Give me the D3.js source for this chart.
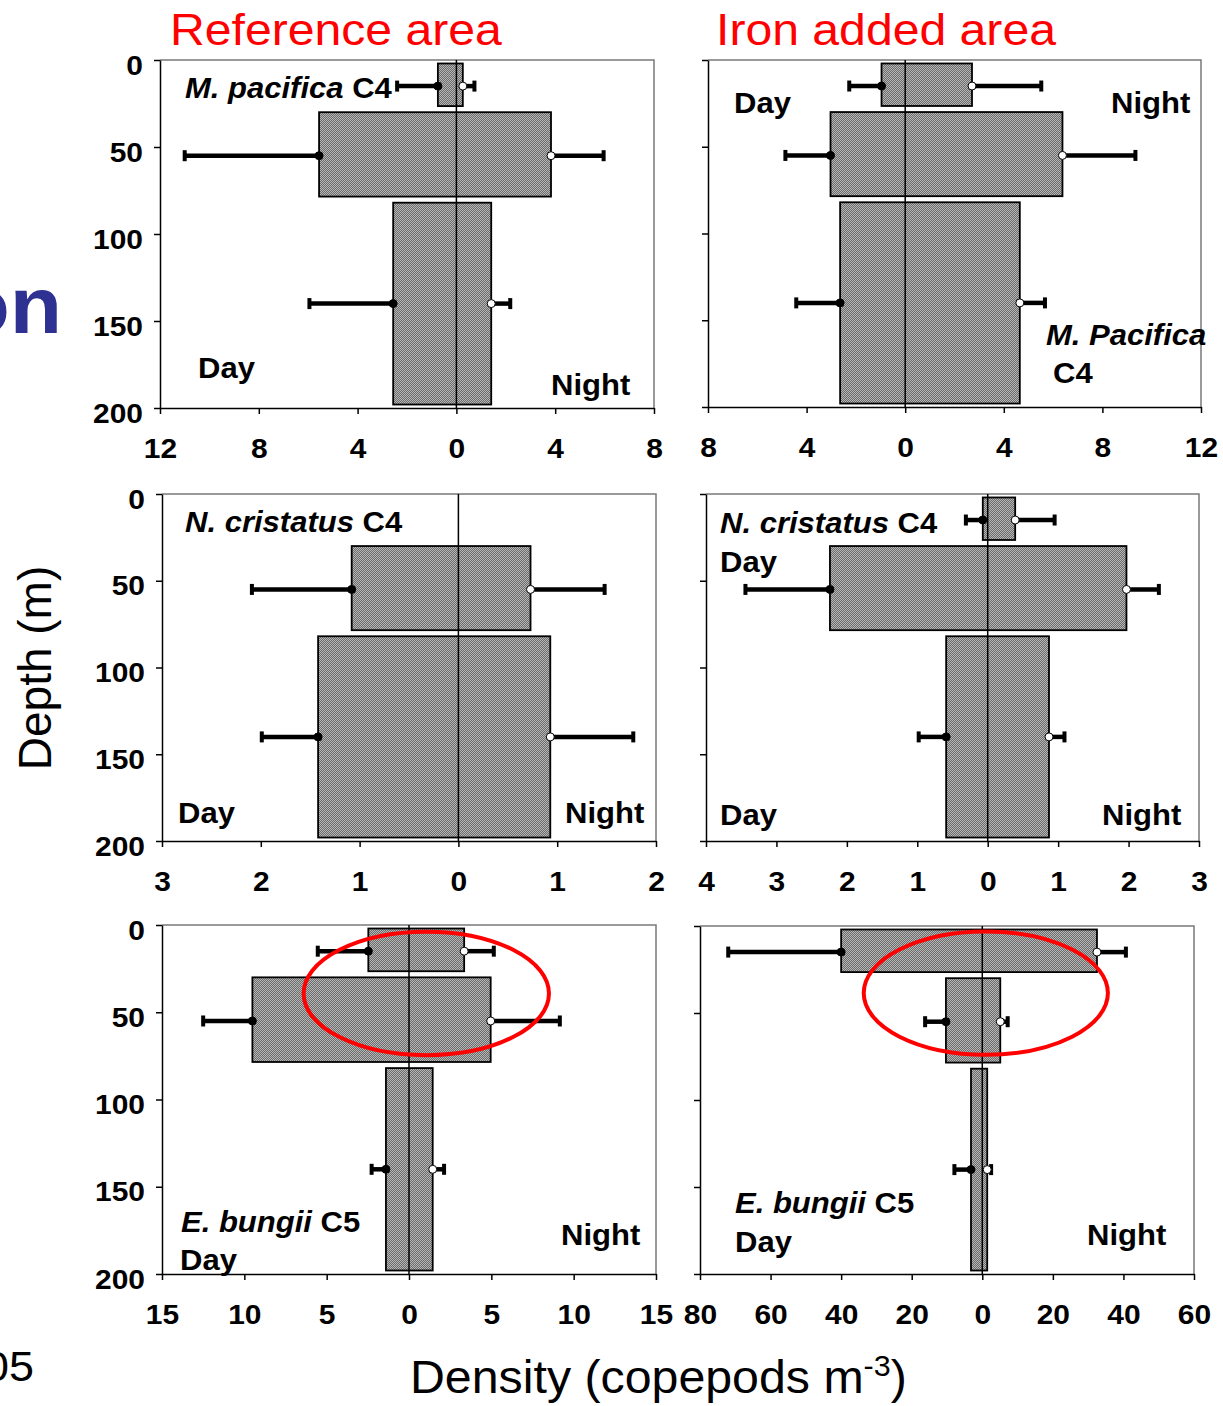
<!DOCTYPE html>
<html>
<head>
<meta charset="utf-8">
<script src="https://cdn.jsdelivr.net/npm/d3@7"></script>
<style>
  html, body { margin: 0; padding: 0; background: #fff; }
  svg { display: block; }
  text { font-family: "Liberation Sans", Arial, sans-serif; white-space: pre; }
</style>
</head>
<body>
<svg id="chart" width="1223" height="1406"></svg>
<script>
// ---- Sampling layers (m) ----
const layerTop = [2, 30, 82];
const layerBottom = [26.5, 78.5, 198];
const sampleDepth = [15, 55, 140];
const depthTicks = [0, 50, 100, 150, 200];

// ---- Metridia pacifica C4 (copepods m-3) ----
const mpRefDay = [0.75, 5.56, 2.56];
const mpRefDaySE = [1.65, 5.44, 3.39];
const mpRefNight = [0.26, 3.83, 1.41];
const mpRefNightSE = [0.47, 2.13, 0.77];
const mpFeDay = [0.96, 3.03, 2.64];
const mpFeDaySE = [1.31, 1.83, 1.78];
const mpFeNight = [2.71, 6.38, 4.65];
const mpFeNightSE = [2.81, 2.96, 1.02];

// ---- Neocalanus cristatus C4 ----
const ncRefDay = [0, 1.08, 1.42];
const ncRefDaySE = [0, 1.01, 0.57];
const ncRefNight = [0, 0.73, 0.93];
const ncRefNightSE = [0, 0.75, 0.84];
const ncFeDay = [0.07, 2.24, 0.59];
const ncFeDaySE = [0.24, 1.20, 0.39];
const ncFeNight = [0.39, 1.97, 0.87];
const ncFeNightSE = [0.56, 0.46, 0.22];

// ---- Eucalanus bungii C5 ----
const ebRefDay = [2.47, 9.51, 1.40];
const ebRefDaySE = [3.07, 2.99, 0.87];
const ebRefNight = [3.35, 4.96, 1.44];
const ebRefNightSE = [1.80, 4.20, 0.69];
const ebFeDay = [40, 10.3, 3.2];
const ebFeDaySE = [32, 5.9, 4.7];
const ebFeNight = [32.5, 5.1, 1.4];
const ebFeNightSE = [8.2, 2.1, 1.1];

// ---- Density axes (day to the left, night to the right) ----
const mpRefTicks = [-12, -8, -4, 0, 4, 8];
const mpFeTicks = [-8, -4, 0, 4, 8, 12];
const ncRefTicks = [-3, -2, -1, 0, 1, 2];
const ncFeTicks = [-4, -3, -2, -1, 0, 1, 2, 3];
const ebRefTicks = [-15, -10, -5, 0, 5, 10, 15];
const ebFeTicks = [-80, -60, -40, -20, 0, 20, 40, 60];

// ---- Highlighted upper-layer shift (density extent, depth extent) ----
const ebRefFocusX = [-6.4, 8.5];
const ebRefFocusDepth = [3.8, 74.6];
const ebFeFocusX = [-33.6, 35.6];
const ebFeFocusDepth = [3.1, 74.0];

// ---- Panel layout ----
const panels = [
  { box: [160, 654, 60, 408],  ticks: mpRefTicks, day: mpRefDay, daySE: mpRefDaySE, night: mpRefNight, nightSE: mpRefNightSE, depthLabels: true },
  { box: [708, 1201, 60, 407], ticks: mpFeTicks,  day: mpFeDay,  daySE: mpFeDaySE,  night: mpFeNight,  nightSE: mpFeNightSE,  depthLabels: false },
  { box: [162, 656, 494, 841], ticks: ncRefTicks, day: ncRefDay, daySE: ncRefDaySE, night: ncRefNight, nightSE: ncRefNightSE, depthLabels: true },
  { box: [706, 1199, 494, 841], ticks: ncFeTicks, day: ncFeDay,  daySE: ncFeDaySE,  night: ncFeNight,  nightSE: ncFeNightSE,  depthLabels: false },
  { box: [162, 656, 925, 1274], ticks: ebRefTicks, day: ebRefDay, daySE: ebRefDaySE, night: ebRefNight, nightSE: ebRefNightSE, depthLabels: true,
    focus: { x: ebRefFocusX, d: ebRefFocusDepth } },
  { box: [700, 1194, 926, 1274], ticks: ebFeTicks, day: ebFeDay,  daySE: ebFeDaySE,  night: ebFeNight,  nightSE: ebFeNightSE,  depthLabels: false,
    focus: { x: ebFeFocusX, d: ebFeFocusDepth } }
];

const SX = 1.07;          // slight horizontal widening of the lettering
const svg = d3.select('#chart');

// fine checker fill used by the bars
const defs = svg.append('defs');
const pat = defs.append('pattern').attr('id', 'checker')
  .attr('width', 2).attr('height', 2).attr('patternUnits', 'userSpaceOnUse');
pat.append('rect').attr('width', 2).attr('height', 2).attr('fill', '#6c6c6c');
pat.append('rect').attr('width', 1).attr('height', 1).attr('fill', '#b6b6b6');
pat.append('rect').attr('x', 1).attr('y', 1).attr('width', 1).attr('height', 1).attr('fill', '#b6b6b6');

function label(x, y, parts, size, opts = {}) {
  const t = svg.append('text')
    .attr('transform', `translate(${x},${y}) scale(${opts.sx ?? SX},1)`)
    .attr('font-size', size)
    .attr('font-weight', opts.weight ?? 'bold')
    .attr('fill', opts.fill ?? '#000')
    .attr('text-anchor', opts.anchor ?? 'start');
  parts.forEach(p => {
    const s = typeof p === 'string' ? { t: p } : p;
    t.append('tspan').text(s.t).attr('font-style', s.i ? 'italic' : 'normal');
  });
  return t;
}

function drawPanel(p) {
  const [x0, x1, y0, y1] = p.box;
  const ticks = p.ticks;
  const x = d3.scaleLinear().domain([ticks[0], ticks[ticks.length - 1]]).range([x0, x1]);
  const y = d3.scaleLinear().domain([0, 200]).range([y0, y1]);
  const g = svg.append('g');

  // top and right frame
  g.append('path').attr('d', `M${x0},${y0}H${x1}V${y1}`)
    .attr('fill', 'none').attr('stroke', '#7a7a7a').attr('stroke-width', 1.5);

  const rows = d3.range(sampleDepth.length).map(i => ({
    top: layerTop[i], bottom: layerBottom[i], depth: sampleDepth[i],
    day: p.day[i], daySE: p.daySE[i], night: p.night[i], nightSE: p.nightSE[i]
  })).filter(r => r.day > 0 || r.night > 0);

  // day/night density bars
  g.selectAll('rect.bar').data(rows).join('rect').attr('class', 'bar')
    .attr('x', d => x(-d.day)).attr('width', d => x(d.night) - x(-d.day))
    .attr('y', d => y(d.top)).attr('height', d => y(d.bottom) - y(d.top))
    .attr('fill', 'url(#checker)').attr('stroke', '#000').attr('stroke-width', 1.8);

  // zero line
  g.append('line').attr('x1', x(0)).attr('x2', x(0)).attr('y1', y0).attr('y2', y1)
    .attr('stroke', '#000').attr('stroke-width', 1.5);

  // error bars
  const errs = [];
  rows.forEach(r => {
    errs.push({ from: -r.day, to: -(r.day + r.daySE), depth: r.depth, night: false });
    errs.push({ from: r.night, to: r.night + r.nightSE, depth: r.depth, night: true });
  });
  g.selectAll('line.err').data(errs).join('line').attr('class', 'err')
    .attr('x1', d => x(d.from)).attr('x2', d => x(d.to))
    .attr('y1', d => y(d.depth)).attr('y2', d => y(d.depth))
    .attr('stroke', '#000').attr('stroke-width', 4.5);
  g.selectAll('line.cap').data(errs).join('line').attr('class', 'cap')
    .attr('x1', d => x(d.to)).attr('x2', d => x(d.to))
    .attr('y1', d => y(d.depth) - 5.5).attr('y2', d => y(d.depth) + 5.5)
    .attr('stroke', '#000').attr('stroke-width', 4);
  g.selectAll('circle.mark').data(errs).join('circle').attr('class', 'mark')
    .attr('cx', d => x(d.from)).attr('cy', d => y(d.depth)).attr('r', 4)
    .attr('fill', d => d.night ? '#fff' : '#000')
    .attr('stroke', '#000').attr('stroke-width', 1);

  // highlighted region
  if (p.focus) {
    const fx = p.focus.x.map(x), fy = p.focus.d.map(y);
    g.append('ellipse')
      .attr('cx', (fx[0] + fx[1]) / 2).attr('cy', (fy[0] + fy[1]) / 2)
      .attr('rx', (fx[1] - fx[0]) / 2).attr('ry', (fy[1] - fy[0]) / 2)
      .attr('fill', 'none').attr('stroke', '#ff0000').attr('stroke-width', 4);
  }

  // axes
  const xAxis = d3.axisBottom(x).tickValues(ticks).tickFormat(d => Math.abs(d))
    .tickSize(6).tickSizeOuter(0);
  const xg = g.append('g').attr('transform', `translate(0,${y1})`).call(xAxis);
  const yAxis = d3.axisLeft(y).tickValues(depthTicks)
    .tickFormat(p.depthLabels ? d3.format('d') : () => '')
    .tickSize(6).tickSizeOuter(0);
  const yg = g.append('g').attr('transform', `translate(${x0},0)`).call(yAxis);

  [xg, yg].forEach(a => {
    a.select('.domain').attr('stroke', '#000').attr('stroke-width', 1.5);
    a.selectAll('.tick line').attr('stroke', '#000').attr('stroke-width', 1.5);
    a.selectAll('text').attr('font-family', '"Liberation Sans", Arial, sans-serif')
      .attr('font-size', 28).attr('font-weight', 'bold').attr('fill', '#000');
  });
  xg.selectAll('text').attr('y', 50).attr('dy', null)
    .attr('transform', `scale(${SX},1)`);
  yg.selectAll('text').attr('x', -17 / SX).attr('dy', '0.5em')
    .attr('transform', `scale(${SX},1)`);
}

panels.forEach(drawPanel);

// ---- panel annotations ----
label(185, 98, [{ t: 'M. pacifica', i: true }, ' C4'], 29);
label(198, 378, ['Day'], 29);
label(551, 395, ['Night'], 29);

label(734, 113, ['Day'], 29);
label(1111, 113, ['Night'], 29);
label(1046, 345, [{ t: 'M. Pacifica', i: true }], 29);
label(1053, 383, ['C4'], 29);

label(185, 532, [{ t: 'N. cristatus', i: true }, ' C4'], 29);
label(178, 823, ['Day'], 29);
label(565, 823, ['Night'], 29);

label(720, 533, [{ t: 'N. cristatus', i: true }, ' C4'], 29);
label(720, 572, ['Day'], 29);
label(720, 825, ['Day'], 29);
label(1102, 825, ['Night'], 29);

label(181, 1232, [{ t: 'E. bungii', i: true }, ' C5'], 29);
label(180, 1270, ['Day'], 29);
label(561, 1245, ['Night'], 29);

label(735, 1213, [{ t: 'E. bungii', i: true }, ' C5'], 29);
label(735, 1252, ['Day'], 29);
label(1087, 1245, ['Night'], 29);

// ---- headings ----
label(170, 45, ['Reference area'], 45, { weight: 'normal', fill: '#ff0000' });
label(716, 45, ['Iron added area'], 45, { weight: 'normal', fill: '#ff0000' });

// ---- axis titles ----
svg.append('text')
  .attr('transform', 'translate(51,668) rotate(-90)')
  .attr('text-anchor', 'middle').attr('font-size', 46).attr('fill', '#000')
  .text('Depth (m)');

const dens = label(410, 1393, [], 46, { weight: 'normal', sx: 1.05 });
dens.append('tspan').text('Density (copepods m');
dens.append('tspan').text('-3').attr('font-size', 29).attr('dy', -17);
dens.append('tspan').text(')').attr('dy', 17);

// ---- slide fragments at the left edge ----
label(62, 333, ['on'], 80, { fill: '#2e3192', anchor: 'end' });
label(34, 1381, ['05'], 42, { weight: 'normal', anchor: 'end' });
</script>
</body>
</html>
